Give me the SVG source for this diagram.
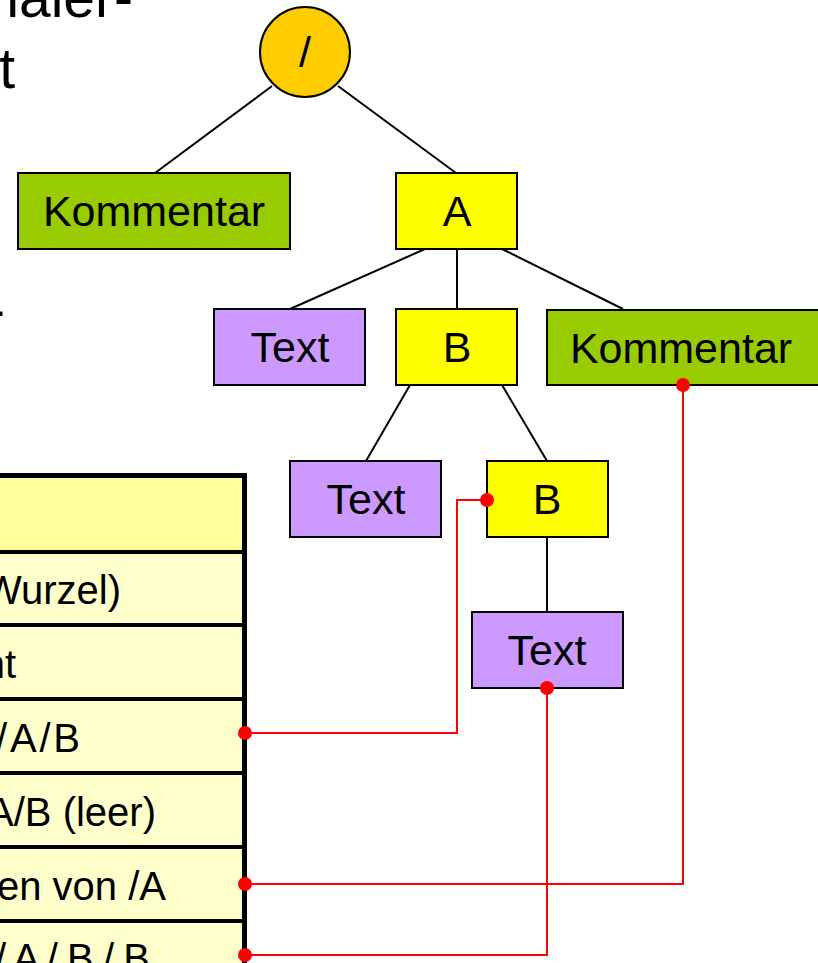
<svg xmlns="http://www.w3.org/2000/svg" width="818" height="963" viewBox="0 0 818 963">
<style>
text{font-family:"Liberation Sans",Arial,sans-serif;fill:#000}
.nt{font-size:43px;text-anchor:middle}
.tt{font-size:40px;text-anchor:end}
.ts{font-size:40px}
.big{font-size:57px;text-anchor:end}
.box{stroke:#000;stroke-width:2}
.edge{stroke:#000;stroke-width:2;fill:none}
.red{stroke:#ff0000;stroke-width:2;fill:none}
.dot{fill:#ff0000}
.rowline{stroke:#000;stroke-width:4}
</style>
<rect width="818" height="963" fill="#fff"/>
<g id="title">
<text class="big" x="133" y="17">naler-</text>
<text class="big" x="15" y="88">t</text>
<text class="big" x="5" y="329">-</text>
</g>
<g id="table">
<rect x="-10" y="476" width="255" height="77" fill="#ffff99"/>
<rect x="-10" y="553" width="255" height="420" fill="#ffffcc"/>
<line class="rowline" x1="-10" y1="552" x2="245" y2="552"/>
<line class="rowline" x1="-10" y1="625" x2="245" y2="625"/>
<line class="rowline" x1="-10" y1="699" x2="245" y2="699"/>
<line class="rowline" x1="-10" y1="773" x2="245" y2="773"/>
<line class="rowline" x1="-10" y1="847" x2="245" y2="847"/>
<line class="rowline" x1="-10" y1="921" x2="245" y2="921"/>
<line x1="-10" y1="475.5" x2="247" y2="475.5" stroke="#000" stroke-width="5"/>
<line x1="244.5" y1="473" x2="244.5" y2="970" stroke="#000" stroke-width="5"/>
<text class="tt" x="121" y="604">(Wurzel)</text>
<text class="tt" x="16" y="678">nt</text>
<text class="ts" x="-4" y="752" textLength="84" lengthAdjust="spacing">/A/B</text>
<text class="tt" x="156" y="826">/A/B (leer)</text>
<text class="tt" x="166" y="900">en von /A</text>
<text class="ts" x="-5" y="972" textLength="155" lengthAdjust="spacing">/ A / B / B</text>
</g>
<g id="connectors">
<line class="edge" x1="272" y1="86" x2="155" y2="173"/>
<line class="edge" x1="338" y1="86" x2="456" y2="173"/>
<line class="edge" x1="425" y1="249" x2="290" y2="309"/>
<line class="edge" x1="457" y1="249" x2="457" y2="309"/>
<line class="edge" x1="502" y1="249" x2="623" y2="309"/>
<line class="edge" x1="410" y1="385" x2="366" y2="461"/>
<line class="edge" x1="502" y1="385" x2="547" y2="461"/>
<line class="edge" x1="547" y1="537" x2="547" y2="612"/>
<polyline class="red" points="245,733 457,733 457,500 487,500"/>
<polyline class="red" points="245,884 683,884 683,385"/>
<polyline class="red" points="245,955 547,955 547,688"/>
</g>
<g id="root"><circle class="box" cx="305" cy="52" r="45" fill="#ffcc00"/><text class="nt" x="305" y="67">/</text></g>
<g id="kommentar1"><rect class="box" x="18" y="173" width="272" height="76" fill="#99cc00"/><text class="nt" x="154" y="226">Kommentar</text></g>
<g id="nodeA"><rect class="box" x="396" y="173" width="121" height="76" fill="#ffff00"/><text class="nt" x="457" y="226">A</text></g>
<g id="text1"><rect class="box" x="214" y="309" width="151" height="76" fill="#cc99ff"/><text class="nt" x="290" y="362">Text</text></g>
<g id="nodeB1"><rect class="box" x="396" y="309" width="121" height="76" fill="#ffff00"/><text class="nt" x="457" y="362">B</text></g>
<g id="kommentar2"><rect class="box" x="547" y="310" width="280" height="75" fill="#99cc00"/><text class="nt" x="681" y="363">Kommentar</text></g>
<g id="text2"><rect class="box" x="290" y="461" width="151" height="76" fill="#cc99ff"/><text class="nt" x="366" y="514">Text</text></g>
<g id="nodeB2"><rect class="box" x="487" y="461" width="121" height="76" fill="#ffff00"/><text class="nt" x="547" y="514">B</text></g>
<g id="text3"><rect class="box" x="472" y="612" width="151" height="76" fill="#cc99ff"/><text class="nt" x="547" y="665">Text</text></g>
<g id="dots">
<circle class="dot" cx="245" cy="733" r="7"/>
<circle class="dot" cx="487" cy="500" r="7"/>
<circle class="dot" cx="245" cy="884" r="7"/>
<circle class="dot" cx="683" cy="385" r="7"/>
<circle class="dot" cx="245" cy="955" r="7"/>
<circle class="dot" cx="547" cy="688" r="7"/>
</g>
</svg>
